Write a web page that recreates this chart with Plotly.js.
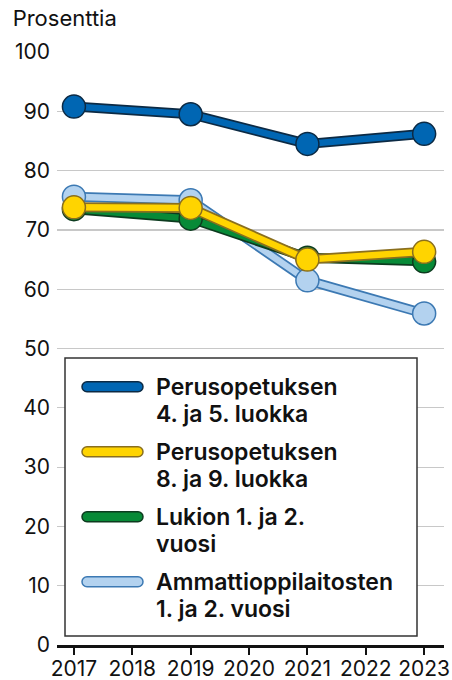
<!DOCTYPE html>
<html>
<head>
<meta charset="utf-8">
<script src="https://cdn.plot.ly/plotly-3.0.1.min.js"></script>
<style>html,body{margin:0;padding:0;background:#fff;}#chart{width:452px;height:680px;}</style>
</head>
<body>
<div id="chart"></div>
<script>
const years = [2017, 2019, 2021, 2023];
const tickYears = [2017, 2018, 2019, 2020, 2021, 2022, 2023];
const seriesNames = [
  "Perusopetuksen<br>4. ja 5. luokka",
  "Perusopetuksen<br>8. ja 9. luokka",
  "Lukion 1. ja 2.<br>vuosi",
  "Ammattioppilaitosten<br>1. ja 2. vuosi"
];
const perus45 = [90.8, 89.5, 84.5, 86.2];
const perus89 = [73.8, 73.7, 65.0, 66.3];
const lukio12 = [73.5, 71.9, 65.3, 64.7];
const ammatti12 = [75.6, 75.0, 61.5, 55.9];

const fills = ["#0066b3", "#ffd400", "#078a37", "#b3d2ef"];
const borders = ["#0c2a44", "#8a6f1e", "#0d3b1f", "#3c79b3"];
const values = [perus45, perus89, lukio12, ammatti12];

const FONT = "Inter, 'Noto Sans', sans-serif";
const W = 452, H = 680;
const M = {l: 57, r: 8, t: 52, b: 35};
const PW = W - M.l - M.r, PH = H - M.t - M.b;
const px2x = px => (px - M.l) / PW;
const py2y = py => (H - M.b - py) / PH;

const traces = [];
// draw order: light blue, green, yellow, dark blue
[3, 2, 1, 0].forEach(i => {
  traces.push({
    x: years, y: values[i], type: "scatter", mode: "lines",
    line: {color: borders[i], width: 10}, hoverinfo: "skip", showlegend: false
  });
  traces.push({
    x: years, y: values[i], type: "scatter", mode: "lines+markers",
    line: {color: fills[i], width: 6.5},
    marker: {size: 23, color: fills[i], line: {color: borders[i], width: 1.5}},
    name: seriesNames[i].replace("<br>", " "), showlegend: false
  });
});

// manual legend (box, rounded line samples, text)
const shapes = [];
const annotations = [];
shapes.push({
  type: "rect", xref: "paper", yref: "paper",
  x0: px2x(65), x1: px2x(417), y0: py2y(636), y1: py2y(358),
  fillcolor: "#fff", line: {color: "#333", width: 1.5}, layer: "above"
});
const firstBase = 395, itemStep = 65, lineStep = 26.7;
function stadium(x0, x1, cy, r) {
  const k = 0.5523 * r;
  const P = (x, y) => px2x(x).toFixed(5) + "," + py2y(y).toFixed(5);
  return "M" + P(x0 + r, cy - r) + " L" + P(x1 - r, cy - r) +
    " C" + P(x1 - r + k, cy - r) + " " + P(x1, cy - k) + " " + P(x1, cy) +
    " C" + P(x1, cy + k) + " " + P(x1 - r + k, cy + r) + " " + P(x1 - r, cy + r) +
    " L" + P(x0 + r, cy + r) +
    " C" + P(x0 + r - k, cy + r) + " " + P(x0, cy + k) + " " + P(x0, cy) +
    " C" + P(x0, cy - k) + " " + P(x0 + r - k, cy - r) + " " + P(x0 + r, cy - r) + " Z";
}
seriesNames.forEach((name, i) => {
  const base = firstBase + i * itemStep;
  shapes.push({
    type: "path", xref: "paper", yref: "paper", path: stadium(82, 143, base - 8.3, 5),
    fillcolor: fills[i], line: {color: borders[i], width: 1.5}, layer: "above"
  });
  name.split("<br>").forEach((ln, j) => {
    annotations.push({
      xref: "paper", yref: "paper", x: px2x(154), y: py2y(base + j * lineStep - 8),
      xanchor: "left", yanchor: "middle", showarrow: false, text: ln,
      font: {family: FONT, size: 23, color: "#111", weight: 600}
    });
  });
});

const layout = {
  width: W, height: H,
  margin: M,
  paper_bgcolor: "#fff", plot_bgcolor: "#fff",
  font: {family: FONT, color: "#111", size: 20},
  title: {text: "Prosenttia", x: 0.028, xanchor: "left", y: 0.985, yanchor: "top",
          font: {family: FONT, size: 22, color: "#111"}},
  xaxis: {
    range: [2016.71, 2023.34], tickvals: tickYears, ticktext: tickYears.map(String),
    showline: true, linecolor: "#111", linewidth: 2.5,
    ticks: "outside", ticklen: 7, tickwidth: 2, tickcolor: "#111", ticklabelstandoff: -4,
    showgrid: false, zeroline: false, tickfont: {family: FONT, size: 21, color: "#111"}
  },
  yaxis: {
    range: [0, 100], dtick: 10, tick0: 0, showline: false, zeroline: false,
    gridcolor: "#c8c8c8", gridwidth: 1.2, ticks: "", ticklabelstandoff: 6,
    tickfont: {family: FONT, size: 21, color: "#111"}
  },
  showlegend: false,
  shapes: shapes,
  annotations: annotations
};
Plotly.newPlot("chart", traces, layout, {displayModeBar: false, staticPlot: true});
</script>
</body>
</html>
